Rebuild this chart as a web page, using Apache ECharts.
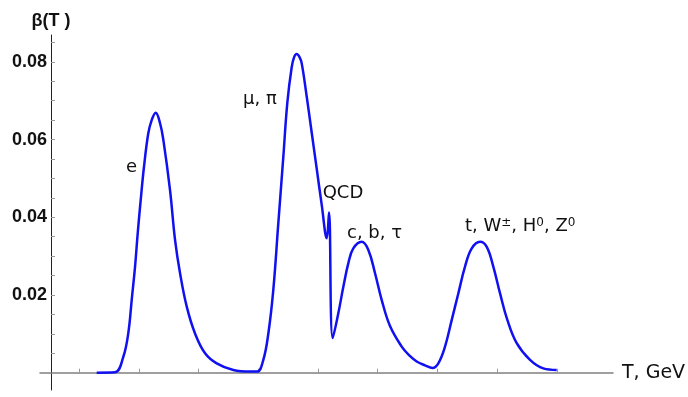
<!DOCTYPE html>
<html><head><meta charset="utf-8">
<script src="https://cdn.jsdelivr.net/npm/echarts@6/dist/echarts.min.js"></script>
<style>html,body{margin:0;padding:0;background:#fff}#c{width:688px;height:397px}</style>
</head><body><div id="c"></div>
<script>
// log10 of temperature T (GeV) and beta(T)
const tExponent = [-4.707,-4.40,-4.261,-4.178,-4.121,-4.065,-4.020,-3.970,-3.915,-3.843,-3.786,-3.719,-3.646,-3.591,-3.479,-3.395,-3.311,-3.199,-3.060,-2.892,-2.697,-2.419,-2.139,-2.017,
  -1.916,-1.832,-1.749,-1.665,-1.581,-1.514,-1.441,-1.400,-1.357,-1.310,-1.273,-1.189,-1.106,-1.022,-0.938,-0.854,-0.816,-0.754,
  -0.660,-0.576,-0.492,-0.409,-0.268,-0.157,-0.045,0.067,0.206,0.402,0.524,0.653,0.792,0.918,1.015,1.127,1.240,1.350,1.462,1.575,1.714,1.826,1.936,2.049,2.171,2.328,2.551,2.774,2.998];
const beta = [0,0.0001,0.0041,0.0102,0.0187,0.0273,0.0359,0.0445,0.0530,0.0616,0.0650,0.0669,0.0642,0.0599,0.0470,0.0342,0.0256,0.0170,0.0101,0.0050,0.0024,0.0007,0.0003,0.0003,
  0.0033,0.0101,0.0213,0.0385,0.0556,0.0695,0.0786,0.0812,0.0820,0.0812,0.0796,0.0710,0.0618,0.0525,0.0432,0.0346,0.0412,0.0089,
  0.0153,0.0221,0.0282,0.0320,0.0337,0.0316,0.0256,0.0187,0.0120,0.0067,0.0045,0.0029,0.0019,0.0012,0.0024,0.0067,0.0136,0.0204,0.0273,0.0320,0.0337,0.0324,0.0273,0.0204,0.0136,0.0076,0.0033,0.0011,0.0007];
const xTickExponents = [-5,-4,-3,-2,-1,0,1,2,3];
const xLabelExponents = [-4,-2,0,2];
const yTickValues = [0.005,0.01,0.015,0.02,0.025,0.03,0.035,0.04,0.045,0.05,0.055,0.06,0.065,0.07,0.075,0.08,0.085];
const yLabelValues = [0.02,0.04,0.06,0.08];

const data = tExponent.map((e,i)=>[Math.pow(10,e), beta[i]]);
const chart = echarts.init(document.getElementById('c'), null, {renderer:'canvas'});
const txt = {fontFamily:'DejaVu Sans', fontSize:18, fill:'#111'};
chart.setOption({
  animation:false,
  grid:{left:40, right:75, top:35, bottom:7, containLabel:false, outerBoundsMode:'none'},
  xAxis:{
    type:'log', logBase:10,
    min:Math.pow(10,-5.657), max:Math.pow(10,3.941),
    name:'T, GeV', nameLocation:'end', nameGap:9,
    nameTextStyle:{fontFamily:'DejaVu Sans', fontSize:19, color:'#111', verticalAlign:'middle', align:'left'},
    axisLine:{onZero:true, lineStyle:{color:'#808080', width:1.5}},
    axisTick:{show:true, inside:true, length:4, lineStyle:{color:'#999'}, customValues:xTickExponents.map(e=>Math.pow(10,e))},
    axisLabel:{
      customValues:xLabelExponents.map(e=>Math.pow(10,e)), margin:7,
      fontFamily:'Liberation Sans', fontWeight:'bold', fontSize:18, color:'#111',
      formatter:function(v){const e=Math.round(Math.log10(v)); if(e===-4) return '{b|10}{s|-4}'; if(e===-2) return '0.01'; if(e===0) return '1'; return '100';},
      rich:{b:{fontFamily:'Liberation Sans', fontWeight:'bold', fontSize:18, color:'#111'}, s:{fontFamily:'Liberation Sans', fontWeight:'bold', fontSize:14, color:'#111', verticalAlign:'top', padding:[0,0,8,1]}}
    },
    splitLine:{show:false}, minorTick:{show:false}
  },
  yAxis:{
    type:'value', min:-0.00445, max:0.0869, offset:-11,
    name:'β(T )', nameLocation:'end', nameGap:5,
    nameTextStyle:{fontFamily:'Liberation Sans', fontWeight:'bold', fontSize:18, color:'#111', align:'center'},
    axisLine:{show:true, onZero:false, lineStyle:{color:'#222', width:1}},
    axisTick:{show:true, inside:true, length:4, lineStyle:{color:'#999'}, customValues:yTickValues},
    axisLabel:{customValues:yLabelValues, margin:4, fontFamily:'Liberation Sans', fontWeight:'bold', fontSize:18, color:'#111', formatter:v=>v.toFixed(2)},
    splitLine:{show:false}
  },
  series:[{type:'line', data:data, showSymbol:false, smooth:0.4, lineStyle:{color:'#1010f0', width:2.5}}],
  graphic:[
    {type:'text', x:131.5, y:167.5, style:Object.assign({text:'e', align:'center', verticalAlign:'middle'}, txt)},
    {type:'text', x:243, y:99, style:Object.assign({text:'μ, π', align:'left', verticalAlign:'middle'}, txt)},
    {type:'text', x:343, y:193, style:Object.assign({text:'QCD', align:'center', verticalAlign:'middle'}, txt)},
    {type:'text', x:347, y:233, style:Object.assign({text:'c, b, τ', align:'left', verticalAlign:'middle'}, txt)},
    {type:'text', x:465, y:226, style:Object.assign({text:'t, W{s|±}, H{s|0}, Z{s|0}', align:'left', verticalAlign:'middle',
      rich:{s:{fontFamily:'DejaVu Sans', fontSize:12, fill:'#111', verticalAlign:'top', padding:[0,0,6,0]}}}, txt)}
  ]
});
</script></body></html>
